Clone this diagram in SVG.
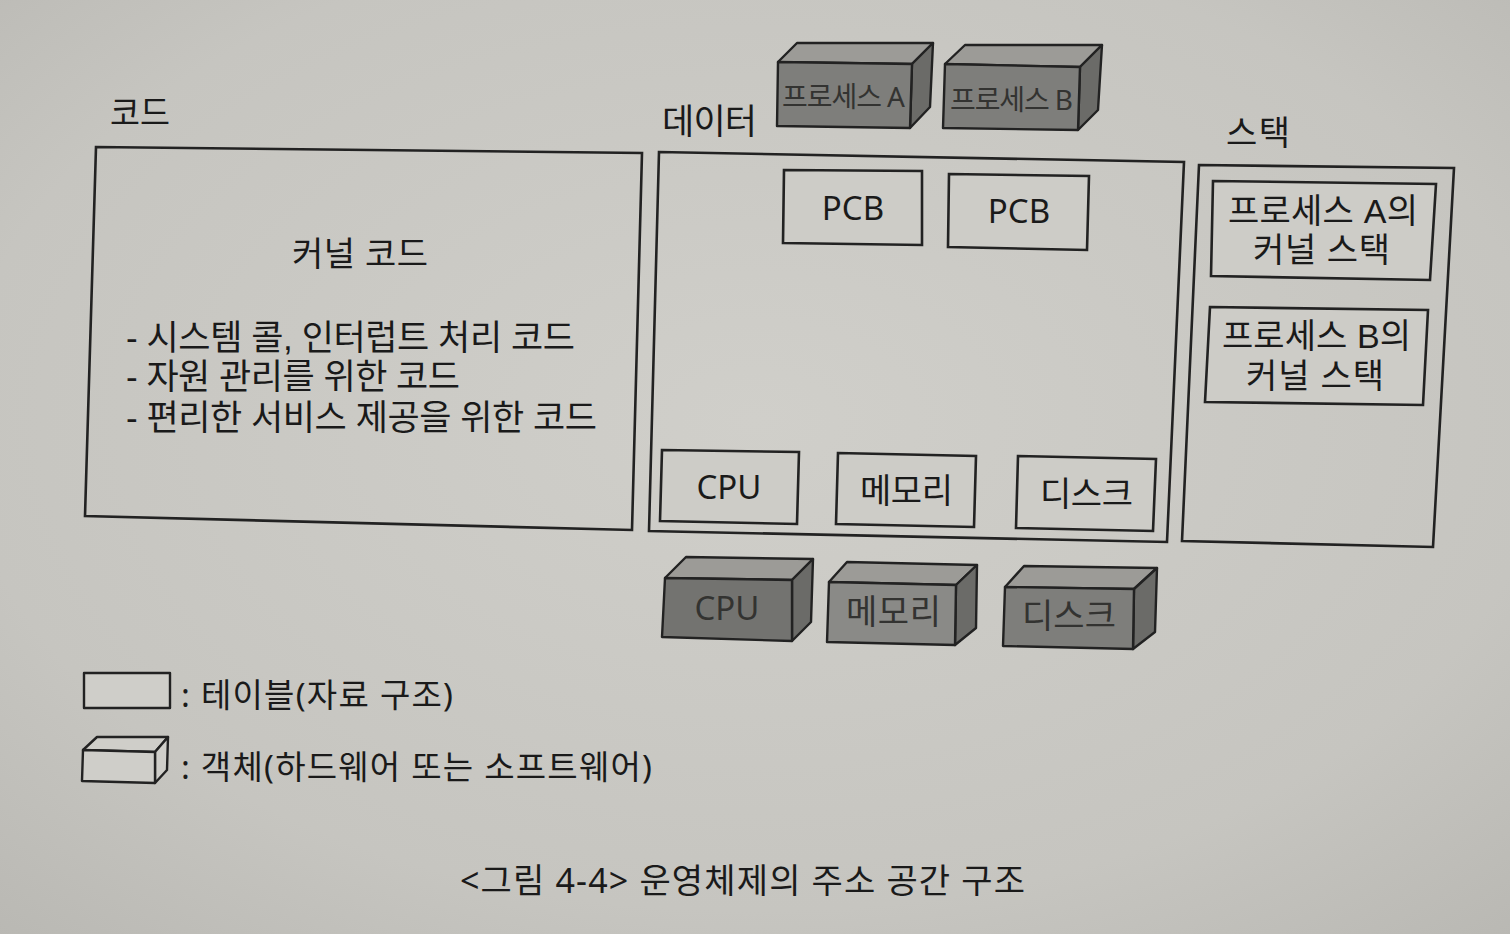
<svg xmlns="http://www.w3.org/2000/svg" width="1510" height="934" viewBox="0 0 1510 934">
<defs>
<radialGradient id="bg" cx="0.5" cy="0.45" r="0.75">
<stop offset="0" stop-color="#d0cfca"/>
<stop offset="0.7" stop-color="#c6c5c0"/>
<stop offset="1" stop-color="#b9b8b3"/>
</radialGradient>
<style>
.box{fill:none;stroke:#222;stroke-width:2.6;stroke-linejoin:miter}
.tbl{fill:#cdccc7;stroke:#222;stroke-width:2.6}
.t{font-family:"Noto Sans","Noto Sans CJK KR",sans-serif;fill:#1a1a1a;font-weight:400}
.m{font-family:"Liberation Sans","Noto Sans CJK KR",sans-serif;fill:#1a1a1a;font-weight:400}
.ct{font-family:"Noto Sans","Noto Sans CJK KR",sans-serif;fill:#333331;font-weight:400}
.top{fill:#9c9b97;stroke:#222;stroke-width:2.4;stroke-linejoin:round}
.front{fill:#7e7e7b;stroke:#222;stroke-width:2.4;stroke-linejoin:round}
.side{fill:#6b6b68;stroke:#222;stroke-width:2.4;stroke-linejoin:round}
.lg{fill:#cfcec9;stroke:#222;stroke-width:2.4;stroke-linejoin:round}
</style>
</defs>
<rect width="1510" height="934" fill="url(#bg)"/>

<g id="code-area">
<text class="t" x="110" y="125" font-size="34" textLength="60" lengthAdjust="spacingAndGlyphs">코드</text>
<polygon class="box" points="96,147 642,153 632,530 85,516"/>
<text class="t" x="292" y="266" font-size="34" textLength="136" lengthAdjust="spacing">커널 코드</text>
<text class="m" x="126" y="350" font-size="35" textLength="449" lengthAdjust="spacing">- 시스템 콜, 인터럽트 처리 코드</text>
<text class="m" x="126" y="389" font-size="35" textLength="334" lengthAdjust="spacing">- 자원 관리를 위한 코드</text>
<text class="m" x="126" y="430" font-size="35" textLength="471" lengthAdjust="spacing">- 편리한 서비스 제공을 위한 코드</text>
</g>

<g id="data-area">
<text class="t" x="662" y="134" font-size="35" textLength="95" lengthAdjust="spacing">데이터</text>
<polygon class="box" points="659,152 1184,162 1167,542 649,531"/>
</g>

<g id="pcb-a">
<polygon class="tbl" points="784,170 922,171 922,245 783,243"/>
<text class="t" x="853" y="220" font-size="33" text-anchor="middle">PCB</text>
</g>
<g id="pcb-b">
<polygon class="tbl" points="949,174 1089,176 1087,250 948,247"/>
<text class="t" x="1019" y="223" font-size="33" text-anchor="middle">PCB</text>
</g>

<g id="cpu-table">
<polygon class="tbl" points="662,450 799,452 797,524 660,521"/>
<text class="t" x="729" y="499" font-size="33" text-anchor="middle">CPU</text>
</g>
<g id="mem-table">
<polygon class="tbl" points="838,453 976,456 974,527 836,524"/>
<text class="t" x="860" y="503" font-size="34" textLength="93" lengthAdjust="spacing">메모리</text>
</g>
<g id="disk-table">
<polygon class="tbl" points="1018,456 1156,459 1153,531 1016,528"/>
<text class="t" x="1040" y="506" font-size="34" textLength="93" lengthAdjust="spacing">디스크</text>
</g>

<g id="stack-area">
<text class="t" x="1226" y="145" font-size="34" textLength="64" lengthAdjust="spacing">스택</text>
<polygon class="box" points="1199,165 1454,168 1433,547 1182,541"/>
</g>
<g id="stack-a">
<polygon class="tbl" points="1213,181 1436,184 1430,280 1211,276"/>
<text class="m" x="1228" y="223" font-size="34" textLength="190" lengthAdjust="spacing">프로세스 A의</text>
<text class="m" x="1253" y="262" font-size="34" textLength="137" lengthAdjust="spacing">커널 스택</text>
</g>
<g id="stack-b">
<polygon class="tbl" points="1210,307 1428,310 1423,405 1205,402"/>
<text class="m" x="1222" y="348" font-size="34" textLength="189" lengthAdjust="spacing">프로세스 B의</text>
<text class="m" x="1246" y="388" font-size="34" textLength="138" lengthAdjust="spacing">커널 스택</text>
</g>

<g id="proc-a-obj">
<polygon class="top" points="778,62 797,43 933,43 912,64"/>
<polygon class="side" points="912,64 933,43 930,107 910,128"/>
<polygon class="front" points="778,62 912,64 910,128 777,126"/>
<text class="ct" x="782" y="107" font-size="28" textLength="123" lengthAdjust="spacing">프로세스 A</text>
</g>
<g id="proc-b-obj">
<polygon class="top" points="945,64 965,45 1102,45 1080,67"/>
<polygon class="side" points="1080,67 1102,45 1098,110 1078,130"/>
<polygon class="front" points="945,64 1080,67 1078,130 943,128"/>
<text class="ct" x="950" y="110" font-size="28" textLength="123" lengthAdjust="spacing">프로세스 B</text>
</g>

<g id="cpu-obj">
<polygon class="top" points="665,578 686,557 813,559 792,580"/>
<polygon class="side" points="792,580 813,559 811,622 792,641"/>
<polygon class="front" points="665,578 792,580 792,641 662,637" style="fill:#737370"/>
<text class="ct" x="727" y="620" font-size="33" text-anchor="middle">CPU</text>
</g>
<g id="mem-obj">
<polygon class="top" points="829,582 847,562 977,565 956,585"/>
<polygon class="side" points="956,585 977,565 976,628 955,645"/>
<polygon class="front" points="829,582 956,585 955,645 827,642" style="fill:#8a8a87"/>
<text class="ct" x="846" y="624" font-size="34" textLength="95" lengthAdjust="spacing">메모리</text>
</g>
<g id="disk-obj">
<polygon class="top" points="1005,587 1024,566 1157,568 1134,589"/>
<polygon class="side" points="1134,589 1157,568 1155,632 1133,649"/>
<polygon class="front" points="1005,587 1134,589 1133,649 1003,646"/>
<text class="ct" x="1022" y="628" font-size="34" textLength="94" lengthAdjust="spacing">디스크</text>
</g>

<g id="legend">
<rect x="84" y="673" width="86" height="35" class="lg"/>
<text class="t" x="181" y="707" font-size="33" textLength="272" lengthAdjust="spacing">: 테이블(자료 구조)</text>
<polygon class="lg" points="83,750 97,737 168,737 155,752"/>
<polygon class="lg" points="155,752 168,737 167,770 155,783"/>
<polygon class="lg" points="83,750 155,752 155,783 82,781"/>
<text class="t" x="181" y="779" font-size="33" textLength="471" lengthAdjust="spacing">: 객체(하드웨어 또는 소프트웨어)</text>
</g>

<g id="caption">
<text class="t" x="460" y="893" font-size="34" textLength="565" lengthAdjust="spacing">&lt;그림 4-4&gt; 운영체제의 주소 공간 구조</text>
</g>

<g id="connectors"></g>
</svg>
